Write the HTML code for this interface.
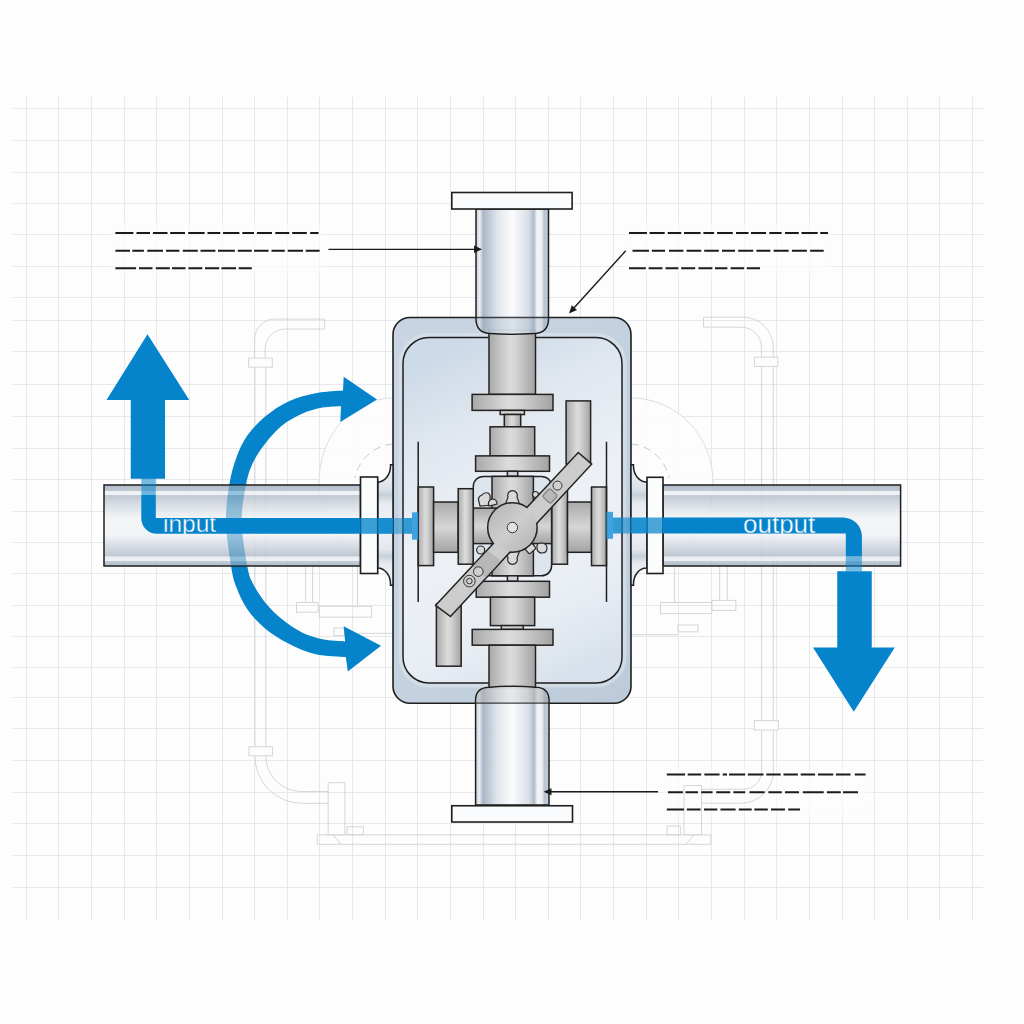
<!DOCTYPE html>
<html><head><meta charset="utf-8"><style>
html,body{margin:0;padding:0;background:#fdfdfd;}
svg{display:block;}
text{font-family:"Liberation Sans",sans-serif;}
</style></head><body>
<svg width="1024" height="1024" viewBox="0 0 1024 1024">
<defs>
<linearGradient id="hpipe" x1="0" y1="0" x2="0" y2="1">
<stop offset="0" stop-color="#a9b6c4"/>
<stop offset="0.07" stop-color="#b6c2cf"/>
<stop offset="0.075" stop-color="#edf1f4"/>
<stop offset="0.125" stop-color="#edf1f4"/>
<stop offset="0.13" stop-color="#b7c2ce"/>
<stop offset="0.3" stop-color="#dfe4ea"/>
<stop offset="0.42" stop-color="#f2f4f6"/>
<stop offset="0.62" stop-color="#f0f2f5"/>
<stop offset="0.8" stop-color="#c6cfd9"/>
<stop offset="0.88" stop-color="#b6c1cd"/>
<stop offset="0.885" stop-color="#e9edf1"/>
<stop offset="0.94" stop-color="#e9edf1"/>
<stop offset="0.945" stop-color="#b7c2cf"/>
<stop offset="1" stop-color="#a9b6c4"/>
</linearGradient>
<linearGradient id="vpipe" x1="0" y1="0" x2="1" y2="0">
<stop offset="0" stop-color="#c2ccd8"/>
<stop offset="0.05" stop-color="#e9edf1"/>
<stop offset="0.1" stop-color="#a2b1c2"/>
<stop offset="0.3" stop-color="#dfe5ec"/>
<stop offset="0.5" stop-color="#fbfcfd"/>
<stop offset="0.72" stop-color="#d6dde6"/>
<stop offset="0.8" stop-color="#aab6c6"/>
<stop offset="0.84" stop-color="#f2f4f7"/>
<stop offset="0.9" stop-color="#eef1f5"/>
<stop offset="0.94" stop-color="#b3bfcd"/>
<stop offset="1" stop-color="#c2cbd6"/>
</linearGradient>
<linearGradient id="metalV" x1="0" y1="0" x2="1" y2="0">
<stop offset="0" stop-color="#a9a9a9"/>
<stop offset="0.45" stop-color="#dcdcdc"/>
<stop offset="0.6" stop-color="#d2d2d2"/>
<stop offset="1" stop-color="#a2a2a2"/>
</linearGradient>
<linearGradient id="metalH" x1="0" y1="0" x2="0" y2="1">
<stop offset="0" stop-color="#a9a9a9"/>
<stop offset="0.5" stop-color="#d6d6d6"/>
<stop offset="1" stop-color="#a3a3a3"/>
</linearGradient>
<linearGradient id="neckG" x1="0" y1="0" x2="0" y2="1">
<stop offset="0" stop-color="#eef2f6"/>
<stop offset="0.2" stop-color="#dbe2ea"/>
<stop offset="0.25" stop-color="#c5cfda"/>
<stop offset="0.32" stop-color="#e6ebf0"/>
<stop offset="0.5" stop-color="#f1f4f7"/>
<stop offset="0.7" stop-color="#e3e8ee"/>
<stop offset="0.76" stop-color="#c8d1dc"/>
<stop offset="0.82" stop-color="#e5eaf0"/>
<stop offset="1" stop-color="#eef2f6"/>
</linearGradient>
<linearGradient id="barG" x1="0" y1="0" x2="1" y2="1">
<stop offset="0" stop-color="#b4b4b4"/>
<stop offset="0.5" stop-color="#cdcdcd"/>
<stop offset="1" stop-color="#b2b2b2"/>
</linearGradient>
<linearGradient id="housingOuter" x1="0" y1="0" x2="1" y2="1">
<stop offset="0" stop-color="#c9d5e2"/>
<stop offset="0.5" stop-color="#c4d1df"/>
<stop offset="1" stop-color="#bccada"/>
</linearGradient>
<linearGradient id="housingInner" x1="0.35" y1="0" x2="0.65" y2="1">
<stop offset="0" stop-color="#cddae7"/>
<stop offset="0.22" stop-color="#e0e7ef"/>
<stop offset="0.5" stop-color="#edf1f6"/>
<stop offset="0.8" stop-color="#e9eef4"/>
<stop offset="1" stop-color="#d9e2ec"/>
</linearGradient>
<clipPath id="lpipeClip"><rect x="104" y="485" width="256" height="81"/></clipPath>
<clipPath id="txtClip"><rect x="0" y="517.5" width="1024" height="16.5"/></clipPath>
<filter id="soft" x="-30%" y="-60%" width="160%" height="220%"><feGaussianBlur stdDeviation="4"/></filter>
</defs>
<rect width="1024" height="1024" fill="#fdfdfd"/>
<path d="M26.5 97V920M58.5 97V920M91.5 97V920M124.5 97V920M156.5 97V920M189.5 97V920M222.5 97V920M254.5 97V920M287.5 97V920M319.5 97V920M352.5 97V920M385.5 97V920M417.5 97V920M450.5 97V920M483.5 97V920M515.5 97V920M548.5 97V920M580.5 97V920M613.5 97V920M646.5 97V920M678.5 97V920M711.5 97V920M744.5 97V920M776.5 97V920M809.5 97V920M842.5 97V920M874.5 97V920M907.5 97V920M939.5 97V920M972.5 97V920M13 108.5H983M13 140.5H983M13 172.5H983M13 203.5H983M13 234.5H983M13 266.5H983M13 297.5H983M13 320.5H983M13 351.5H983M13 384.5H983M13 416.5H983M13 448.5H983M13 479.5H983M13 511.5H983M13 542.5H983M13 573.5H983M13 605.5H983M13 636.5H983M13 667.5H983M13 697.5H983M13 728.5H983M13 760.5H983M13 792.5H983M13 823.5H983M13 855.5H983M13 887.5H983" stroke="#e7e8ea" stroke-width="1" fill="none"/>

<g fill="#fdfdfd" filter="url(#soft)" opacity="0.7">
<rect x="112" y="224" width="212" height="50"/>
<rect x="624" y="224" width="208" height="50"/>
<rect x="662" y="766" width="208" height="49"/>
</g>
<!-- faint background sketches -->
<g fill="none" stroke="#d4d6d9" stroke-width="1">
<ellipse cx="393" cy="482" rx="74" ry="84" fill="#fdfdfd" fill-opacity="0.85" stroke="#dcdee1"/>
<ellipse cx="631" cy="482" rx="82" ry="84" fill="#fdfdfd" fill-opacity="0.85" stroke="#dcdee1"/>
<path d="M393 444 A42 42 0 0 0 355 478" stroke-dasharray="8 5" stroke="#c8cacd"/>
<path d="M631 444 A42 42 0 0 1 669 478" stroke-dasharray="8 5" stroke="#c8cacd"/>
<!-- left upper faint pipe -->
<path d="M254.6 365V339 A20 20 0 0 1 274.6 319.1H324.6V329H285.2 A20 20 0 0 0 265.2 349V365"/>
<rect x="248.6" y="358.1" width="23.7" height="9.1" fill="#fdfdfd"/>
<!-- left vertical faint pipe down -->
<path d="M254.9 367V756 M265.8 367V756"/>
<rect x="249" y="746.7" width="23.5" height="9.1" fill="#fdfdfd"/>
<path d="M254.9 756 A47 47 0 0 0 301.9 803.3H328.2 M265.8 756 A35.5 35.5 0 0 0 301.3 791.5H328.2"/>
<rect x="328.2" y="782.7" width="16.7" height="52.2"/>
<rect x="347.2" y="826.7" width="16.2" height="8.2"/>
<path d="M317.3 834.9H710.9V844.3H317.3Z M333 834.9 L341 844.3 M694 834.9 L686 844.3"/>
<!-- right upper faint pipe -->
<path d="M773.3 365V347 A30 30 0 0 0 743.3 317.2H703.5V327.2H741.5 A20 20 0 0 1 761.5 347.2V365"/>
<rect x="754.5" y="357.1" width="23.3" height="9.3" fill="#fdfdfd"/>
<path d="M761.6 366V771 M773.3 366V771"/>
<rect x="754.3" y="720.6" width="24" height="9.4" fill="#fdfdfd"/>
<path d="M773.3 771 A32 32 0 0 1 741.3 803.2H701.5 M761.6 771 A18 18 0 0 1 743.6 789.2H701.5"/>
<rect x="684" y="785.6" width="17.5" height="49.3"/>
<rect x="667" y="826" width="13.4" height="8.9"/>
<!-- under left pipe -->
<path d="M305.6 566V602.5 M312.6 566V602.5 M357.5 566V606.3"/>
<rect x="296.5" y="602.5" width="21.5" height="9.7"/>
<rect x="319.4" y="606.3" width="52.2" height="10.9"/>
<rect x="334" y="628" width="10.3" height="7.6"/>
<path d="M344.3 633.3H393"/>
<!-- under right pipe -->
<path d="M674.6 566V602.5 M719.7 566V600.4 M727.3 566V600.4"/>
<rect x="660.5" y="602.5" width="51.3" height="11.1"/>
<rect x="711.8" y="600.4" width="24" height="10"/>
<rect x="678" y="625" width="20" height="6.8"/>
<path d="M631 634.7H678"/>
</g>

<!-- blue arcs -->
<path d="M343.0 390.5 C338.4 390.9 324.8 391.4 315.7 393.2 C306.6 395.0 296.8 397.5 288.4 401.4 C280.0 405.3 272.0 410.8 265.1 416.5 C258.2 422.2 252.1 428.8 247.3 435.6 C242.5 442.4 239.4 449.3 236.4 457.5 C233.4 465.7 231.0 474.1 229.3 484.8 C227.6 495.6 225.7 508.4 226.0 522.0 C226.3 535.6 229.4 555.3 231.1 566.2 C232.8 577.1 233.7 580.1 236.4 587.3 C239.1 594.5 242.5 602.4 247.3 609.2 C252.1 616.1 258.2 622.7 265.1 628.4 C272.0 634.1 280.0 639.1 288.4 643.4 C296.8 647.7 306.1 652.0 315.7 654.3 C325.3 656.6 340.8 656.6 345.8 657.1 L347.8 671.4 L381 645.7 L343.7 626.3 L345.1 641.4 C341.3 641.0 329.7 640.8 322.5 639.3 C315.3 637.8 308.8 635.9 302.0 632.5 C295.2 629.1 287.6 623.8 281.5 618.8 C275.4 613.8 269.9 608.3 265.1 602.4 C260.3 596.5 255.8 589.2 252.8 583.2 C249.8 577.2 249.2 576.4 247.3 566.2 C245.4 556.0 241.8 535.6 241.6 522.0 C241.4 508.4 244.1 494.6 246.0 484.8 C247.9 475.0 249.6 469.8 252.8 463.0 C256.0 456.2 260.3 450.0 265.1 443.8 C269.9 437.6 275.4 431.0 281.5 426.0 C287.6 421.0 295.2 416.9 302.0 413.8 C308.8 410.7 316.0 408.9 322.5 407.6 C329.0 406.3 337.9 406.4 341.0 406.2 L340.3 422 L377 399.6 L343.7 376.8 Z" fill="#0584cc"/>

<!-- housing -->
<rect x="393" y="317.5" width="238" height="385.7" rx="17" fill="url(#housingOuter)" stroke="#1e1e1e" stroke-width="1.6"/>
<rect x="403" y="337.5" width="219" height="345.5" rx="26" fill="none" stroke="#dce4ed" stroke-width="9" opacity="0.6"/>
<rect x="403" y="337.5" width="219" height="345.5" rx="26" fill="url(#housingInner)" stroke="#1e1e1e" stroke-width="1.5"/>

<!-- necks / fillets -->
<g fill="url(#neckG)" stroke="#1e1e1e" stroke-width="1.5">
<path d="M377.7 482 A13 16 0 0 0 390.5 466 V464.8 H393 V585.2 H390.5 V584 A13 16 0 0 0 377.7 568 Z"/>
<path d="M647 482 A13 16 0 0 1 633.5 466 V464.8 H631 V585.2 H633.5 V584 A13 16 0 0 1 647 568 Z"/>
</g>

<!-- horizontal pipes -->
<g stroke="#1e1e1e" stroke-width="1.5">
<rect x="104" y="485" width="256.5" height="81" fill="url(#hpipe)" fill-opacity="0.88"/>
<rect x="663" y="485" width="237.6" height="81" fill="url(#hpipe)" fill-opacity="0.88"/>
</g>

<path d="M343.0 390.5 C338.4 390.9 324.8 391.4 315.7 393.2 C306.6 395.0 296.8 397.5 288.4 401.4 C280.0 405.3 272.0 410.8 265.1 416.5 C258.2 422.2 252.1 428.8 247.3 435.6 C242.5 442.4 239.4 449.3 236.4 457.5 C233.4 465.7 231.0 474.1 229.3 484.8 C227.6 495.6 225.7 508.4 226.0 522.0 C226.3 535.6 229.4 555.3 231.1 566.2 C232.8 577.1 233.7 580.1 236.4 587.3 C239.1 594.5 242.5 602.4 247.3 609.2 C252.1 616.1 258.2 622.7 265.1 628.4 C272.0 634.1 280.0 639.1 288.4 643.4 C296.8 647.7 306.1 652.0 315.7 654.3 C325.3 656.6 340.8 656.6 345.8 657.1 L347.8 671.4 L381 645.7 L343.7 626.3 L345.1 641.4 C341.3 641.0 329.7 640.8 322.5 639.3 C315.3 637.8 308.8 635.9 302.0 632.5 C295.2 629.1 287.6 623.8 281.5 618.8 C275.4 613.8 269.9 608.3 265.1 602.4 C260.3 596.5 255.8 589.2 252.8 583.2 C249.8 577.2 249.2 576.4 247.3 566.2 C245.4 556.0 241.8 535.6 241.6 522.0 C241.4 508.4 244.1 494.6 246.0 484.8 C247.9 475.0 249.6 469.8 252.8 463.0 C256.0 456.2 260.3 450.0 265.1 443.8 C269.9 437.6 275.4 431.0 281.5 426.0 C287.6 421.0 295.2 416.9 302.0 413.8 C308.8 410.7 316.0 408.9 322.5 407.6 C329.0 406.3 337.9 406.4 341.0 406.2 L340.3 422 L377 399.6 L343.7 376.8 Z" fill="#0a6fb0" opacity="0.3" clip-path="url(#lpipeClip)"/>
<!-- mechanism -->
<g stroke="#222" stroke-width="1.5">
<rect x="489" y="330" width="46.5" height="64.4" fill="url(#metalV)"/>
<rect x="472.1" y="394.4" width="80.9" height="16" fill="url(#metalV)"/>
<rect x="500.2" y="410.4" width="24.2" height="4.1" fill="#d5d5d5"/>
<rect x="504.3" y="414.5" width="16.4" height="12.3" fill="url(#metalV)"/>
<rect x="490" y="426.8" width="44.7" height="29.1" fill="url(#metalV)"/>
<rect x="475.6" y="455.9" width="73.9" height="15.4" fill="url(#metalV)"/>
<rect x="507.4" y="471.3" width="10.3" height="5" fill="#d5d5d5"/>
<rect x="473.3" y="476.4" width="78.3" height="99.4" rx="10" fill="#dde5ee"/>
<rect x="492" y="476.4" width="41.4" height="99.4" fill="url(#metalV)"/>
<rect x="473.3" y="508.1" width="78.3" height="35.5" fill="url(#metalH)"/>
<rect x="418.2" y="487" width="15.4" height="78.6" fill="url(#metalV)"/>
<rect x="433.6" y="502" width="24.6" height="50.3" fill="url(#metalH)"/>
<rect x="458.2" y="488.7" width="15" height="75.5" fill="url(#metalV)"/>
<rect x="551.9" y="488.7" width="15.6" height="75.5" fill="url(#metalV)"/>
<rect x="567.5" y="502" width="24" height="50.3" fill="url(#metalH)"/>
<rect x="591.5" y="487" width="15" height="78.6" fill="url(#metalV)"/>
<rect x="507.4" y="575.8" width="10.3" height="5.5" fill="#d5d5d5"/>
<rect x="476.2" y="581.3" width="73.3" height="15.9" fill="url(#metalV)"/>
<rect x="490.4" y="597.2" width="44.3" height="28.4" fill="url(#metalV)"/>
<rect x="501.3" y="625.6" width="21.9" height="3.8" fill="#d5d5d5"/>
<rect x="472.2" y="629.4" width="80.8" height="15.8" fill="url(#metalV)"/>
<rect x="489" y="645.2" width="46.5" height="43" fill="url(#metalV)"/>
<rect x="566.1" y="400.9" width="24.5" height="63" fill="url(#metalV)"/>
<rect x="436.4" y="604" width="24.8" height="62.2" fill="url(#metalV)"/>
</g>
<path d="M418.2 441.8V602 M606.5 441.8V602" stroke="#222" stroke-width="1.5"/>
<!-- nuts -->
<g stroke="#2a2a2a" stroke-width="1.2" fill="#d9d9d9">
<path d="M505.5 504 L508 497 A4.8 4.8 0 1 1 517 497 L519.5 504 Z"/>
<path d="M505.5 551 L508 558 A4.8 4.8 0 1 0 517 558 L519.5 551 Z"/>
<path d="M479 502 Q477 497 482 495 Q484 492 488 493 Q491 495 490 499 Q494 501 492 505 L480 506 Z"/>
<path d="M489 506 Q487 501 492 499 Q497 499 497 504 Z"/>
<circle cx="535.5" cy="494.5" r="3"/>
<circle cx="480.7" cy="550" r="4"/>
<rect x="526" y="545" width="9" height="7" rx="1.5" transform="rotate(-40 530.5 548.5)"/>
<path d="M537 546 Q537 543 542 543 Q547 544 547 548 Q547 553 542 553 Q538 553 537 549 Z"/>
</g>
<!-- lever bar + disc (union outline) -->
<g stroke="#222" stroke-width="3">
<polygon points="436.7,605.2 578.35,453.5 590.6,464.2 450.4,615.4"/>
<circle cx="512.4" cy="527.5" r="24"/>
</g>
<g fill="url(#barG)">
<polygon points="436.7,605.2 578.35,453.5 590.6,464.2 450.4,615.4"/>
<circle cx="512.4" cy="527.5" r="24"/>
</g>
<g fill="none" stroke="#333" stroke-width="1">
<circle cx="512.4" cy="527.5" r="5.2" fill="#e2e2e2"/>
<circle cx="557.5" cy="485.6" r="4.5" fill="#cfcfcf"/>
<rect x="544.5" y="490.5" width="11" height="11" rx="2" transform="rotate(-47 550 496)" fill="#b8b8b8" stroke="#777"/>
<path d="M472.3 567 L487.7 550.6 L501 561 L485.7 577.5 Z" fill="#a9a9a9" stroke="none" opacity="0.6"/>
<circle cx="478.3" cy="571.6" r="4.8" fill="#cfcfcf"/>
<circle cx="469.4" cy="581.1" r="5.8" fill="#cfcfcf"/>
<circle cx="469.4" cy="581.1" r="2.8"/>
</g>

<!-- upper & bottom vertical pipes -->
<g stroke="#1e1e1e" stroke-width="1.5">
<path d="M476 209 V318.6 Q476 333.6 491 333.6 Q512 335 533.5 333.6 Q548.5 333.6 548.5 318.6 V209 Z" fill="url(#vpipe)" fill-opacity="0.92"/>
<path d="M475.6 805 V700 Q475.6 687.5 490 687.2 Q512 685.5 535 687.2 Q549 687.5 549 700 V805 Z" fill="url(#vpipe)" fill-opacity="0.92"/>
</g>
<path d="M476.8 317.5 V318.6 Q476.8 332.8 491 332.8 Q512 334.2 533.5 332.8 Q547.7 332.8 547.7 318.6 V317.5 Z" fill="#9fb0c2" opacity="0.3"/>
<path d="M476.4 703.2 V700 Q476.4 688.3 490 688 Q512 686.3 535 688 Q548.2 688.3 548.2 700 V703.2 Z" fill="url(#metalV)" opacity="0.55"/>
<path d="M476 317.5 H548.5 M475.6 703.2 H549" stroke="#1e1e1e" stroke-width="1.3" opacity="0.8"/>
<!-- flanges -->
<g fill="#fafbfc" stroke="#1e1e1e" stroke-width="1.6">
<rect x="451.8" y="192.5" width="120.3" height="16.5"/>
<rect x="451.8" y="805.75" width="120.7" height="16.25"/>
<rect x="360.5" y="477" width="17.2" height="96.5" fill-opacity="0.85"/>
<rect x="647" y="477.3" width="16" height="96.2" fill-opacity="0.85"/>
</g>

<!-- blue lines -->
<g fill="#0584cc">
<path d="M141.3 495 V518.2 A15.6 15.6 0 0 0 156.9 533.8 H360.5 V518 H155.8 V495 Z"/>
<rect x="141.3" y="478" width="14.5" height="17" fill-opacity="0.55"/>
<rect x="360.5" y="518" width="17.2" height="15.8" fill-opacity="0.78"/>
<rect x="377.7" y="518" width="15.3" height="15.8" fill-opacity="0.92"/>
<rect x="393" y="518" width="10" height="15.8" fill-opacity="0.5"/>
<rect x="403" y="518" width="9" height="15.8" fill-opacity="0.8"/>
<rect x="412" y="512.3" width="6.2" height="27.3" fill="#2c9ae0" fill-opacity="0.9"/>
<rect x="606.5" y="511.8" width="6.5" height="27" fill="#2c9ae0" fill-opacity="0.9"/>
<rect x="613" y="517.5" width="9" height="16" fill-opacity="0.8"/>
<rect x="622" y="517.5" width="9" height="16" fill-opacity="0.6"/>
<rect x="631" y="517.5" width="16" height="16" fill-opacity="0.88"/>
<rect x="647" y="517.5" width="16" height="16" fill-opacity="0.72"/>
<path d="M663 517.5 H843 A19 19 0 0 1 861.9 536.5 V556 H845.8 V533.6 H663 Z"/>
<rect x="845.8" y="556" width="16.1" height="15.4" fill-opacity="0.55"/>
<!-- big arrows -->
<polygon points="147.5,334.25 189.25,400 165,400 165,478.75 130.75,478.75 130.75,400 106.5,400"/>
<polygon points="837.25,571.25 871.75,571.25 871.75,647.5 894.75,647.5 853.75,711.75 813,647.5 837.25,647.5"/>
</g>
<text x="163" y="532.3" font-size="24.5" fill="#ffffff" stroke="#0584cc" stroke-width="0.35" clip-path="url(#txtClip)">input</text>
<text x="743" y="532.7" font-size="26" fill="#ffffff" stroke="#0584cc" stroke-width="0.35" clip-path="url(#txtClip)">output</text>

<!-- labels -->
<path d="M115.4 233.0H133.4M136.5 233.0H150M152.9 233.0H167.5M170.2 233.0H185M188.2 233.0H204.6M207.5 233.0H220.3M223 233.0H239.4M242.3 233.0H254M256.9 233.0H272M275.3 233.0H289.3M292.2 233.0H306.8M310.2 233.0H318.5M115.4 250.8H130M132.3 250.8H143.9M147.3 250.8H163M166 250.8H179.4M182.8 250.8H197.8M200.5 250.8H215.4M218 250.8H234.9M237.8 250.8H251.8M254 250.8H268.6M271.5 250.8H284.8M287.7 250.8H303M305.7 250.8H319.6M115.4 268.3H136.1M139 268.3H152.5M155.8 268.3H169.8M172 268.3H185.5M188.4 268.3H202.3M205 268.3H219.2M221.4 268.3H236M238.7 268.3H251.8M629 232.9H646.9M649.6 232.9H664.7M667.7 232.9H681.2M684 232.9H700.6M703.4 232.9H714.1M717.1 232.9H732.8M736 232.9H748.5M751 232.9H766.1M769.3 232.9H781.6M785 232.9H798.8M801.5 232.9H817.7M820.2 232.9H828M632.5 250.7H649M651.8 250.7H665.1M669 250.7H683.4M686.6 250.7H701.2M704.2 250.7H718.8M722 250.7H735M738.2 250.7H753.2M756.4 250.7H770.4M773.6 250.7H788.7M791.9 250.7H806.9M810.1 250.7H823.7M629 268.3H645.8M648.6 268.3H662.5M665.5 268.3H678.4M681.2 268.3H695.2M698.4 268.3H712.4M715 268.3H727.4M730.6 268.3H744.2M746.8 268.3H760M666.8 774.6H685.1M687.7 774.6H701.2M704.4 774.6H719.5M722.7 774.6H727M729.1 774.6H745.2M747.8 774.6H763.5M766.3 774.6H780.7M783.5 774.6H797.9M800.7 774.6H815.1M817.9 774.6H833.3M835.9 774.6H850.5M854.8 774.6H865.5M667.9 792.2H682.9M685.5 792.2H698M701.2 792.2H712.6M716.2 792.2H730.2M733.4 792.2H745.2M749.5 792.2H764.6M768.4 792.2H781.8M785 792.2H799M802.8 792.2H823.7M826.9 792.2H840.8M843 792.2H858M666.8 809.4H684M686.8 809.4H700.5M704 809.4H717.3M720.5 809.4H735.6M738.8 809.4H751.7M754.3 809.4H767.8M771 809.4H785M788.2 809.4H800" stroke="#1b1b1b" stroke-width="2" fill="none"/>
<g stroke="#1b1b1b" stroke-width="1.4" fill="none">
<path d="M328.5 249.4H476"/>
<path d="M625.75 250.75L573 309"/>
<path d="M658 791.75H550"/>
</g>
<g fill="#1b1b1b">
<polygon points="482,249.3 474,245.6 474,253"/>
<polygon points="569,313.6 571.8,305.3 577,310"/>
<polygon points="543.5,791.75 551.5,788.3 551.5,795.2"/>
</g>
</svg>
</body></html>
